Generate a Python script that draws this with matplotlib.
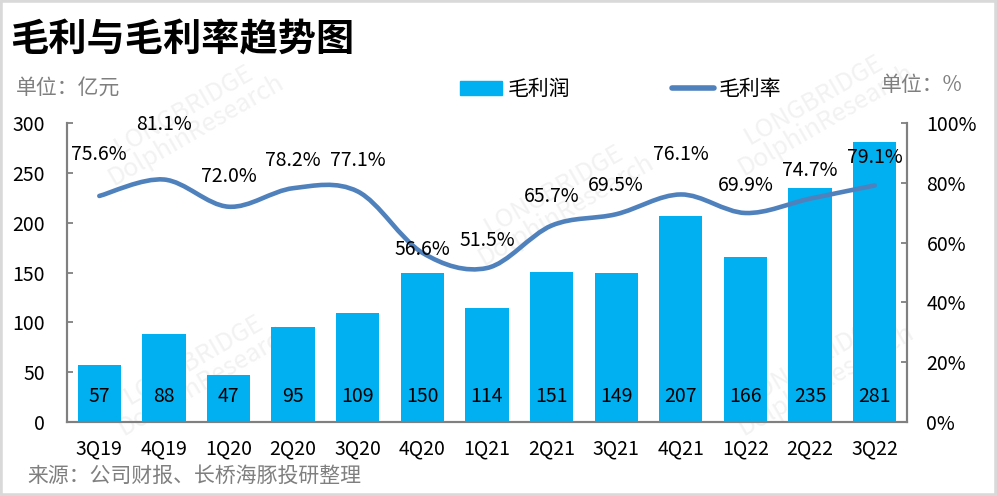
import matplotlib
matplotlib.use("Agg")
import matplotlib.pyplot as plt
from matplotlib.path import Path
from matplotlib.patches import PathPatch, Rectangle
from matplotlib.lines import Line2D
from matplotlib.ticker import FuncFormatter
import numpy as np

plt.rcParams['font.family'] = ['Noto Sans CJK SC', 'DejaVu Sans']

quarters = ["3Q19", "4Q19", "1Q20", "2Q20", "3Q20", "4Q20", "1Q21",
            "2Q21", "3Q21", "4Q21", "1Q22", "2Q22", "3Q22"]
gross_profit = [57, 88, 47, 95, 109, 150, 114, 151, 149, 207, 166, 235, 281]
gross_margin = [75.6, 81.1, 72.0, 78.2, 77.1, 56.6, 51.5, 65.7, 69.5, 76.1, 69.9, 74.7, 79.1]

# label offsets above the line points (pixels), like the original layout
label_dy = [41, 55, 30, 28, 31, 3, 28, 29, 29, 40, 28, 28, 28]

BAR_C = "#00B0F0"
LINE_C = "#4F81BD"
GRAY = "#808080"
FS = 14
FS_CJK = 15

fig = plt.figure(figsize=(9.97, 4.96), dpi=100)
ax = fig.add_axes([0.0672, 0.1492, 0.8425, 0.6028])
ax2 = ax.twinx()
ax.patch.set_visible(False)
ax2.patch.set_visible(False)

x = np.arange(len(quarters))
bars = ax.bar(x, gross_profit, width=0.67, color=BAR_C, zorder=2, label="毛利润")
for xi, v in zip(x, gross_profit):
    ax.annotate(str(v), (xi, 0), xytext=(0, 18), textcoords="offset points",
                ha="center", va="center", fontsize=FS, zorder=3)

# smoothed line (Catmull-Rom as bezier, like excel smoothing)
pts = np.column_stack([x, np.array(gross_margin) / 100.0])
verts = [pts[0]]
codes = [Path.MOVETO]
n = len(pts)
for i in range(n - 1):
    p0 = pts[i - 1] if i > 0 else pts[i]
    p1 = pts[i]
    p2 = pts[i + 1]
    p3 = pts[i + 2] if i + 2 < n else pts[i + 1]
    c1 = p1 + (p2 - p0) / 6.0
    c2 = p2 - (p3 - p1) / 6.0
    verts += [c1, c2, p2]
    codes += [Path.CURVE4] * 3
ax2.add_patch(PathPatch(Path(verts, codes), facecolor="none", edgecolor=LINE_C,
                        lw=3.3, capstyle="round", joinstyle="round", zorder=3))
for xi, v, dy in zip(x, gross_margin, label_dy):
    ax2.annotate(f"{v:.1f}%", (xi, v / 100.0), xytext=(0, dy * 0.72),
                 textcoords="offset points", ha="center", va="center",
                 fontsize=FS, zorder=4)

ax.set_xlim(-0.5, len(quarters) - 0.5)
ax.set_ylim(0, 300)
ax.set_yticks(range(0, 301, 50))
ax2.set_ylim(0, 1)
ax2.set_yticks(np.arange(0, 1.01, 0.2))
ax2.yaxis.set_major_formatter(FuncFormatter(lambda v, p: f"{v * 100:.0f}%"))

ax.set_xticks(x)
ax.set_xticklabels(quarters, fontsize=FS)
ax.tick_params(axis="x", length=0, pad=12)
ax.tick_params(axis="y", direction="in", length=4, width=1.3, color=GRAY,
               pad=16, labelsize=FS)
ax2.tick_params(axis="y", direction="in", length=4, width=1.3, color=GRAY,
                pad=14, labelsize=FS)

for a in (ax, ax2):
    a.spines["top"].set_visible(False)
    for s in ("left", "right", "bottom"):
        a.spines[s].set_color(GRAY)
        a.spines[s].set_linewidth(1.5)

# legend
handles = [Rectangle((0, 0), 1, 1, color=BAR_C),
           Line2D([0], [0], color=LINE_C, lw=4, solid_capstyle="round")]
fig.legend(handles, ["毛利润", "毛利率"], ncol=2, frameon=False, fontsize=FS_CJK,
           loc="center", bbox_to_anchor=(621 / 997, 1 - 89 / 496),
           handlelength=2.0, handleheight=0.65, handletextpad=0.25, columnspacing=4.9)

# texts
fig.text(10 / 997, 1 - 40 / 496, "毛利与毛利率趋势图", fontsize=27.5, fontweight="bold",
         ha="left", va="center")
fig.text(16 / 997, 1 - 88 / 496, "单位：亿元", fontsize=FS_CJK, color="#7F7F7F",
         ha="left", va="center")
fig.text(963 / 997, 1 - 85 / 496, "单位：%", fontsize=FS_CJK, color="#7F7F7F",
         ha="right", va="center")
fig.text(27 / 997, 1 - 476 / 496, "来源：公司财报、长桥海豚投研整理", fontsize=FS_CJK,
         color="#7F7F7F", ha="left", va="center")

# watermarks (behind the chart)
for wx, wy in [(190, 120), (820, 110), (560, 200), (200, 370), (820, 370)]:
    fig.text(wx / 997, 1 - wy / 496, "LONGBRIDGE\nDolphinResearch", fontsize=18,
             color="#F2F2F2", rotation=30, ha="center", va="center",
             linespacing=0.9, zorder=-1)

# frame
fig.patches.append(Rectangle((0, 0), 1, 1, transform=fig.transFigure, fill=False,
                             edgecolor="#D9D9D9", lw=4, zorder=10))

fig.savefig("out.png", dpi=100)
